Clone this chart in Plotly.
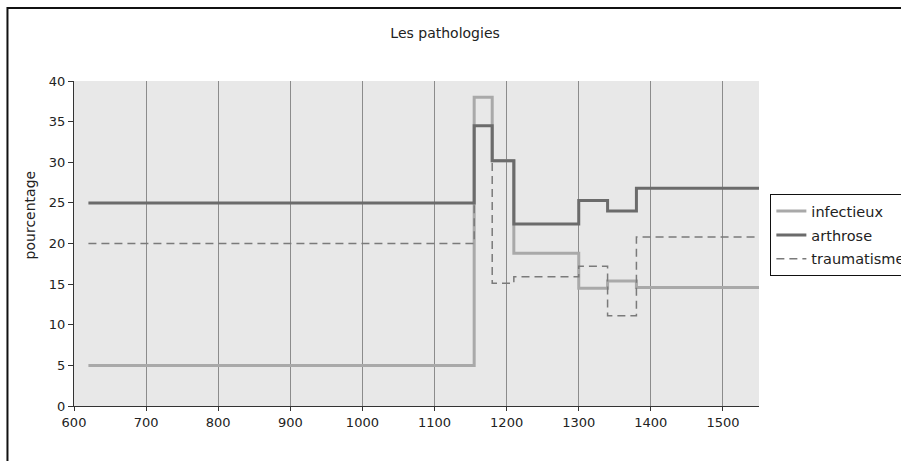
import plotly.graph_objects as go

# step boundaries (years) and percentages per period
annees = [620, 1155, 1180, 1210, 1300, 1340, 1380, 1550]
infectieux = [5, 38, 30.2, 18.8, 14.5, 15.4, 14.6, 14.6]
arthrose = [25, 34.5, 30.2, 22.4, 25.3, 24.0, 26.8, 26.8]
traumatisme = [20, 34.5, 15.1, 15.9, 17.2, 11.1, 20.8, 20.8]

FONT = "DejaVu Sans"

fig = go.Figure()

# drawing order: infectieux, traumatisme, arthrose (arthrose on top)
fig.add_trace(go.Scatter(
    x=annees, y=infectieux, mode="lines", line_shape="hv", name="infectieux",
    line=dict(color="#a9a9a9", width=3), legendrank=1, legendgroup="a",
))
fig.add_trace(go.Scatter(
    x=annees, y=traumatisme, mode="lines", line_shape="hv", name="traumatisme",
    line=dict(color="#7a7a7a", width=1.5, dash="8px,5px"), legendrank=3, legendgroup="c",
))
fig.add_trace(go.Scatter(
    x=annees, y=arthrose, mode="lines", line_shape="hv", name="arthrose",
    line=dict(color="#6b6b6b", width=3), legendrank=2, legendgroup="b",
))

fig.update_layout(
    width=901,
    height=461,
    paper_bgcolor="white",
    plot_bgcolor="#e8e8e8",
    margin=dict(l=73.6, r=141.7, t=81, b=55, autoexpand=False),
    font=dict(family=FONT, size=13, color="#222"),
    title=dict(
        text="Les pathologies", x=0.494, xref="container", xanchor="center",
        y=1 - 33 / 461, yref="container", yanchor="middle",
        font=dict(family=FONT, size=14, color="#222"),
    ),
    showlegend=True,
    legend=dict(
        x=1.0166, xanchor="left", y=0.652, yanchor="top",
        bordercolor="#111", borderwidth=1, bgcolor="white",
        font=dict(family=FONT, size=14.5, color="#222"),
        tracegroupgap=2,
        entrywidth=120,
    ),
)

fig.update_xaxes(
    range=[600, 1550], dtick=100, tick0=600,
    showgrid=True, gridcolor="#8c8c8c", gridwidth=1,
    showline=True, linecolor="#333", linewidth=1,
    ticks="outside", ticklen=4, tickcolor="#333",
    zeroline=False,
)
fig.update_yaxes(
    range=[0, 40], dtick=5,
    showgrid=False,
    showline=True, linecolor="#333", linewidth=1,
    ticks="outside", ticklen=5, tickcolor="#333",
    zeroline=False,
)

# y axis title, sits a bit above the axis middle in the original
fig.add_annotation(
    text="pourcentage", x=-0.065, y=0.588, xref="paper", yref="paper",
    xanchor="center", yanchor="middle",
    textangle=-90, showarrow=False, font=dict(family=FONT, size=14, color="#222"),
)

# outer frame of the chart (right/bottom edges run off the picture)
fig.add_shape(
    type="rect", xref="paper", yref="paper",
    x0=(7 - 73.6) / 685.7, x1=(910 - 73.6) / 685.7,
    y0=(406 - 470) / 325, y1=(406 - 8) / 325,
    line=dict(color="#111", width=2), fillcolor="rgba(0,0,0,0)",
)

# drop the page's default body margin so the figure sits at the corner
fig.write_html(
    "out.html",
    config={"displayModeBar": False},
    post_script="document.body.style.margin='0';",
)
